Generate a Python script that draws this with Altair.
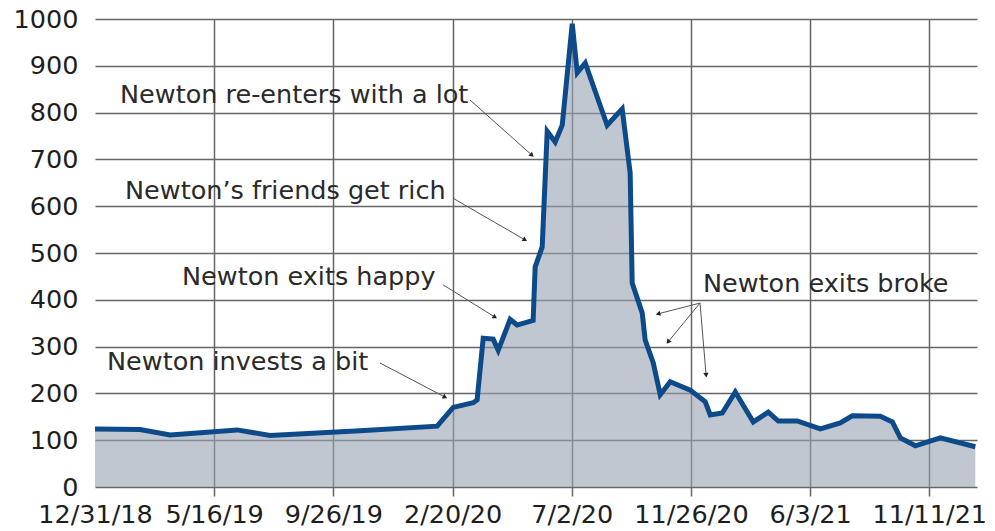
import math
import altair as alt
import pandas as pd

# ---- data (x is position in label intervals along the category axis) ----
x_labels = ["12/31/18", "5/16/19", "9/26/19", "2/20/20", "7/2/20",
            "11/26/20", "6/3/21", "11/11/21"]

pos = [0.000, 0.378, 0.630, 1.192, 1.469, 2.224, 2.871, 3.005, 3.173, 3.206,
       3.257, 3.341, 3.383, 3.483, 3.542, 3.676, 3.693, 3.752, 3.794, 3.861,
       3.920, 4.004, 4.046, 4.113, 4.297, 4.423, 4.490, 4.507, 4.591, 4.616,
       4.684, 4.742, 4.826, 4.994, 5.120, 5.162, 5.263, 5.372, 5.523, 5.649,
       5.733, 5.892, 6.085, 6.253, 6.354, 6.589, 6.690, 6.757, 6.883, 7.092,
       7.386]
price = [124, 123, 111, 122, 110, 120, 130, 170, 180, 186,
         318, 316, 292, 358, 346, 356, 470, 513, 760, 737,
         773, 990, 885, 906, 773, 808, 671, 436, 372, 314,
         265, 197, 225, 207, 182, 154, 158, 203, 139, 160,
         141, 141, 124, 137, 152, 151, 139, 105, 88, 105,
         86]

ann_text = ["Newton re-enters with a lot", "Newton\u2019s friends get rich",
            "Newton exits happy", "Newton invests a bit", "Newton exits broke"]
ann_x = [0.210, 0.252, 0.730, 0.101, 5.101]
ann_y = [838, 632, 449, 267, 434]

arrow_x1 = [3.146, 3.004, 2.920, 2.391, 5.076, 5.076, 5.076]
arrow_y1 = [827, 617, 432, 265, 393, 393, 393]
arrow_x2 = [3.666, 3.608, 3.356, 2.937, 4.724, 4.808, 5.127]
arrow_y2 = [709, 528, 363, 192, 370, 310, 239]

# ---- layout ----
W, H = 882, 468
XMAX = 7.40
FONT = "DejaVu Sans"

series = pd.DataFrame({"t": pos, "v": price})
ann = pd.DataFrame({"t": ann_x, "v": ann_y, "label": ann_text})

angles = []
for a, b, c, d in zip(arrow_x1, arrow_y1, arrow_x2, arrow_y2):
    dx = (c - a) * W / XMAX
    dy = -(d - b) * H / 1000.0
    angles.append(math.degrees(math.atan2(dx, -dy)) % 360)
arrows = pd.DataFrame({"x1": arrow_x1, "y1": arrow_y1, "x2": arrow_x2,
                       "y2": arrow_y2, "ang": angles})

label_expr = "[" + ",".join('"%s"' % s for s in x_labels) + "][datum.value]"

xscale = alt.Scale(domain=[0, XMAX], nice=False, zero=False)
yscale = alt.Scale(domain=[0, 1000], nice=False)

x_axis = alt.Axis(values=list(range(len(x_labels))), labelExpr=label_expr,
                  title=None, domain=False, labelFlush=False, labelOverlap=False,
                  tickSize=9, labelPadding=6,
                  gridOpacity={"condition": {"test": "datum.value === 0", "value": 0}, "value": 1},
                  tickOpacity={"condition": {"test": "datum.value === 0", "value": 0}, "value": 1})
y_axis = alt.Axis(values=list(range(0, 1001, 100)), format="d", title=None,
                  domain=False, ticks=False, labelPadding=17)

base = alt.Chart(series)

area = base.mark_area(color="#98a2b3", opacity=0.6).encode(
    x=alt.X("t:Q", scale=xscale, axis=x_axis),
    y=alt.Y("v:Q", scale=yscale, axis=y_axis),
)
line = base.mark_line(color="#0d4a8a", strokeWidth=5, strokeJoin="miter").encode(
    x=alt.X("t:Q", scale=xscale),
    y=alt.Y("v:Q", scale=yscale),
)
rules = alt.Chart(arrows).mark_rule(color="#555555", strokeWidth=1).encode(
    x=alt.X("x1:Q", scale=xscale), y=alt.Y("y1:Q", scale=yscale),
    x2="x2:Q", y2="y2:Q",
)
heads = alt.Chart(arrows).mark_point(shape="triangle-up", filled=True,
                                     color="#222222", size=28, opacity=1).encode(
    x=alt.X("x2:Q", scale=xscale), y=alt.Y("y2:Q", scale=yscale),
    angle=alt.Angle("ang:Q", scale=None),
)
texts = alt.Chart(ann).mark_text(align="left", baseline="middle", font=FONT,
                                 fontSize=25.5, color="#2a2a2a").encode(
    x=alt.X("t:Q", scale=xscale), y=alt.Y("v:Q", scale=yscale),
    text="label:N",
)

chart = alt.layer(area, line, rules, heads, texts).properties(
    width=W, height=H,
    padding={"left": 95, "top": 19, "right": 18, "bottom": 44},
    autosize=alt.AutoSizeParams(type="none"),
).configure_view(stroke=None).configure_axis(
    gridColor="#666666", gridWidth=1.5, tickColor="#666666", tickWidth=1.5,
    labelFont=FONT, labelFontSize=25.5, labelColor="#1e1e1e",
)

chart.save("out.html", embed_options={"renderer": "svg", "actions": False})
